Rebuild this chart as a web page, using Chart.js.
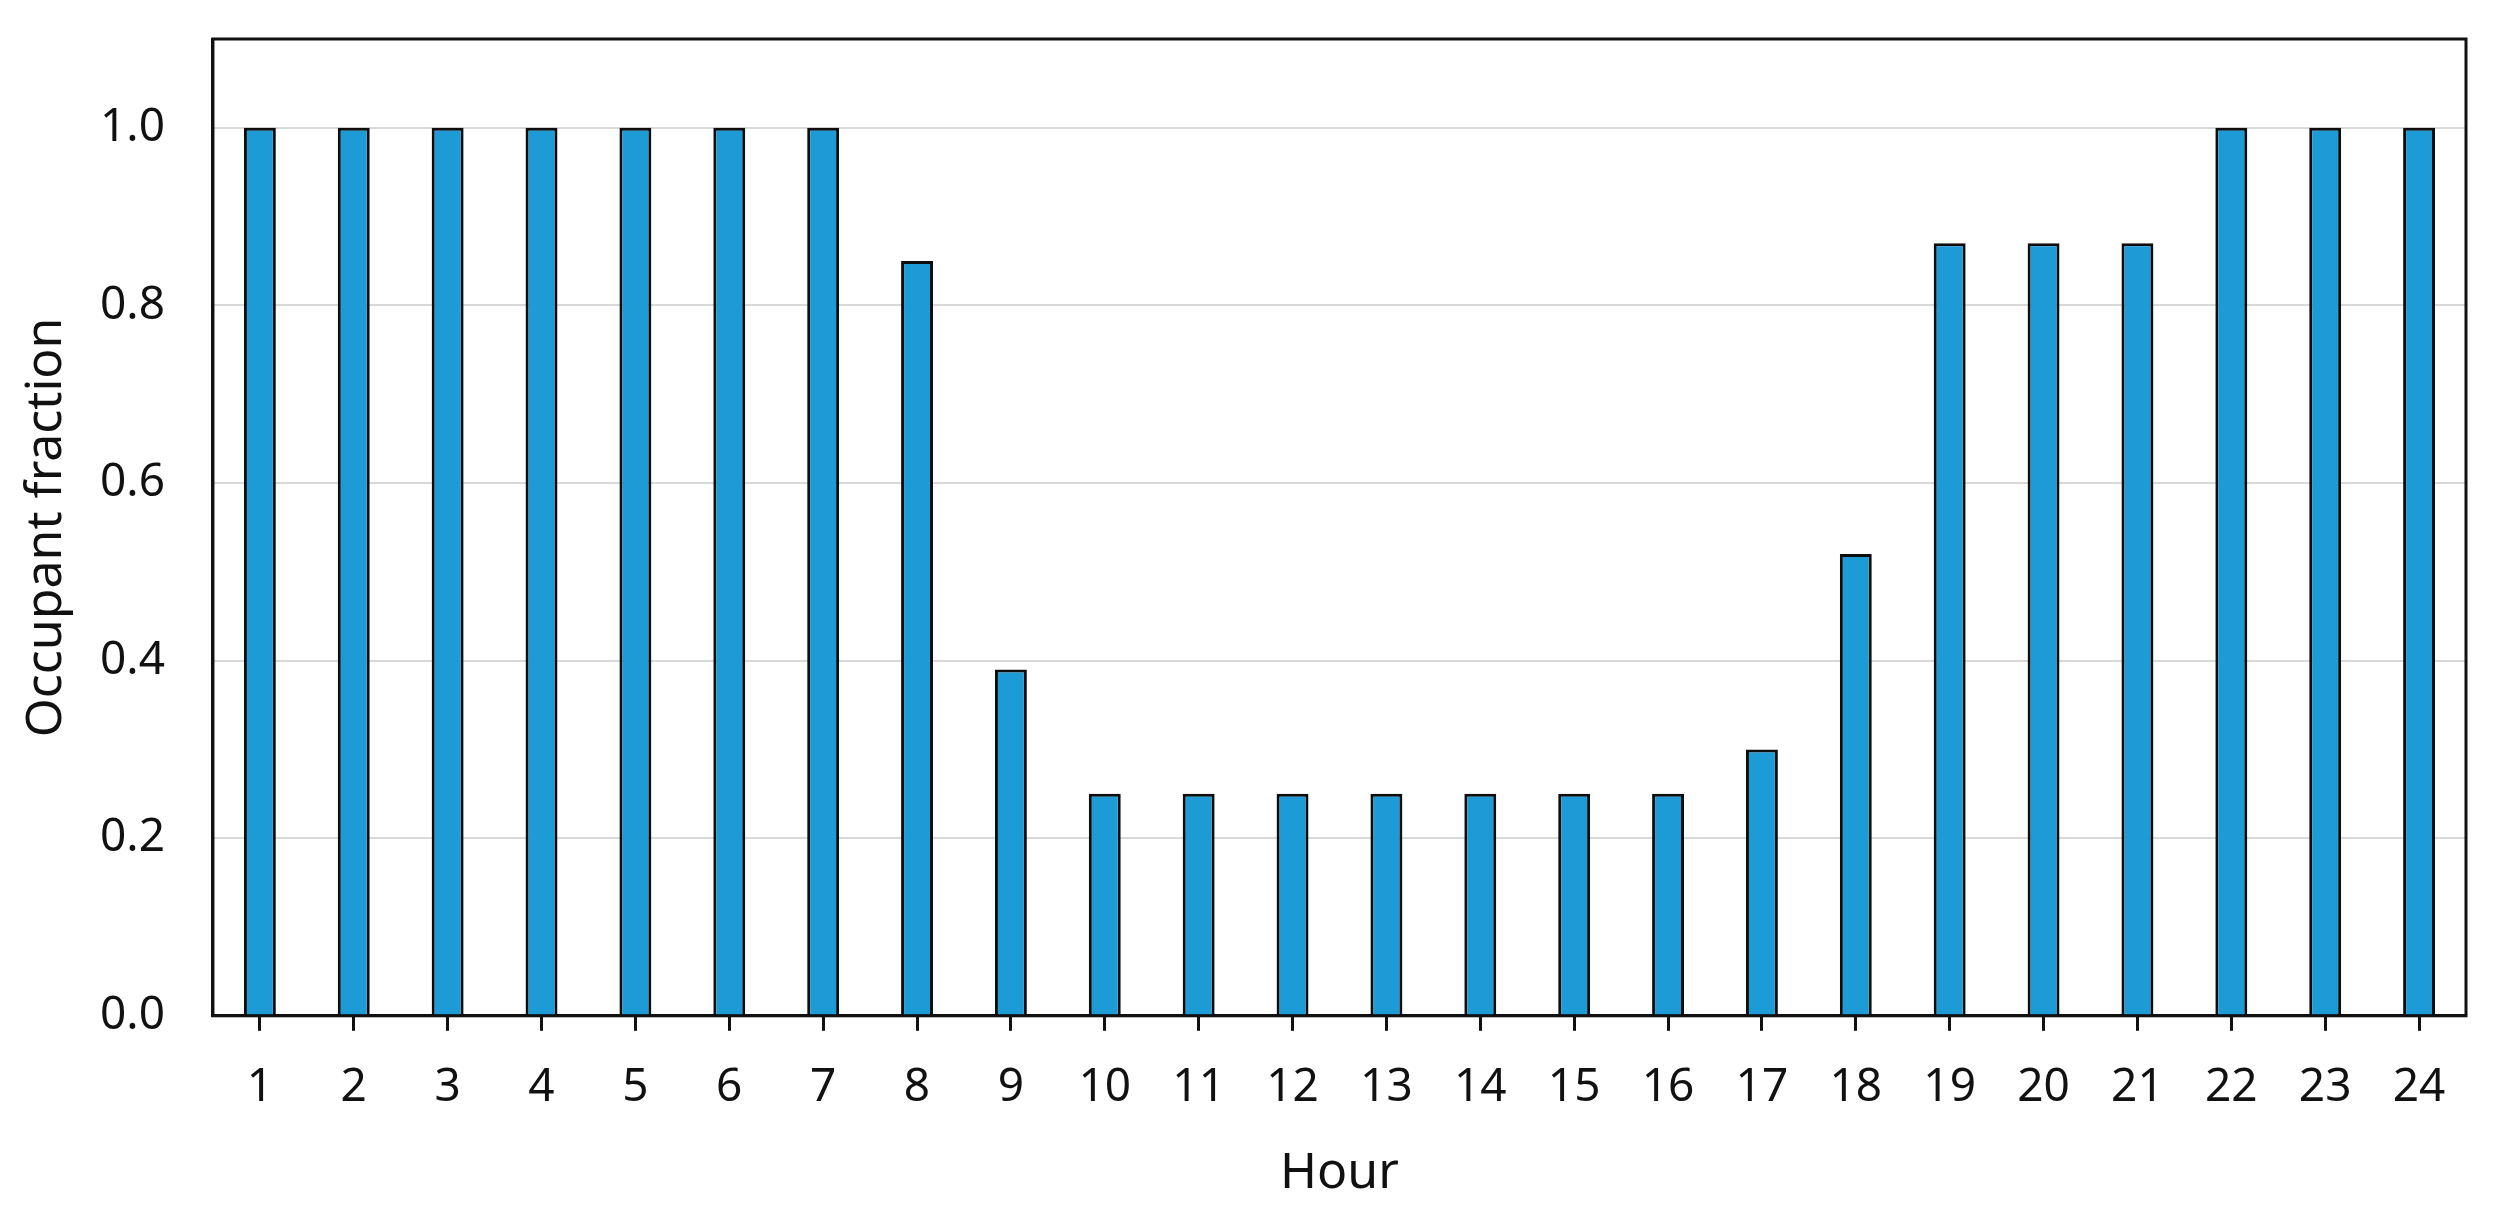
<!DOCTYPE html>
<html>
<head>
<meta charset="utf-8">
<script src="https://cdn.jsdelivr.net/npm/chart.js@4/dist/chart.umd.min.js"></script>
<style>
  html, body { margin: 0; padding: 0; background: #ffffff; }
  #wrap { width: 2505px; height: 1223px; }
</style>
</head>
<body>
<div id="wrap"><canvas id="c" width="2505" height="1223"></canvas></div>
<script>
const hours = ['1','2','3','4','5','6','7','8','9','10','11','12','13','14','15','16','17','18','19','20','21','22','23','24'];
const occupantFraction = [1.0, 1.0, 1.0, 1.0, 1.0, 1.0, 1.0, 0.85, 0.39, 0.25, 0.25, 0.25, 0.25, 0.25, 0.25, 0.25, 0.30, 0.52, 0.87, 0.87, 0.87, 1.0, 1.0, 1.0];
const yTickValues = [0.0, 0.2, 0.4, 0.6, 0.8, 1.0];
const xTitle = 'Hour';
const yTitle = 'Occupant fraction';

const FONT = '"Noto Sans", "Open Sans", sans-serif';
const TEXT = '#111111';
const X_TICK_PAD = 29;
const Y_TICK_PAD = 48;

const boxPlugin = {
  id: 'boxPlugin',
  afterDraw(chart) {
    const a = chart.chartArea;
    const ctx = chart.ctx;
    ctx.save();
    ctx.strokeStyle = '#111111';
    ctx.lineWidth = 3;
    ctx.strokeRect(a.left, a.top, a.right - a.left, a.bottom - a.top);
    ctx.restore();
  }
};

new Chart(document.getElementById('c'), {
  type: 'bar',
  data: {
    labels: hours,
    datasets: [{
      data: occupantFraction,
      backgroundColor: '#1D9BD7',
      borderColor: '#0d0d0d',
      borderWidth: 3,
      barPercentage: 0.34,
      categoryPercentage: 1.0
    }]
  },
  options: {
    responsive: false,
    animation: false,
    devicePixelRatio: 1,
    layout: { padding: { left: 17, right: 39, top: 39, bottom: 25 } },
    plugins: { legend: { display: false }, tooltip: { enabled: false } },
    scales: {
      x: {
        offset: true,
        afterFit(scale) { scale.paddingLeft = 0; scale.paddingRight = 0; },
        grid: {
          display: true,
          offset: false,
          drawOnChartArea: false,
          drawTicks: true,
          tickLength: 15,
          tickWidth: 3,
          tickColor: '#111111'
        },
        border: { display: true, color: '#111111', width: 3 },
        ticks: {
          color: TEXT,
          font: { family: FONT, size: 46 },
          padding: X_TICK_PAD,
          maxRotation: 0,
          autoSkip: false
        },
        title: {
          display: true,
          text: xTitle,
          color: TEXT,
          font: { family: FONT, size: 50 },
          padding: { top: 0, bottom: -6 }
        }
      },
      y: {
        min: 0,
        max: 1.1,
        afterBuildTicks(scale) {
          scale.ticks = yTickValues.map(v => ({ value: v }));
        },
        afterFit(scale) { scale.paddingTop = 0; scale.paddingBottom = 0; scale.width -= Y_TICK_PAD; },
        grid: {
          display: true,
          color: '#d9d9d9',
          lineWidth: 2,
          drawTicks: false
        },
        border: { display: true, color: '#111111', width: 3 },
        ticks: {
          color: TEXT,
          font: { family: FONT, size: 46 },
          padding: Y_TICK_PAD,
          callback: v => Number(v).toFixed(1)
        },
        title: {
          display: true,
          text: yTitle,
          color: TEXT,
          font: { family: FONT, size: 50 },
          padding: { top: 0, bottom: 23 }
        }
      }
    }
  },
  plugins: [boxPlugin]
});
</script>
</body>
</html>
